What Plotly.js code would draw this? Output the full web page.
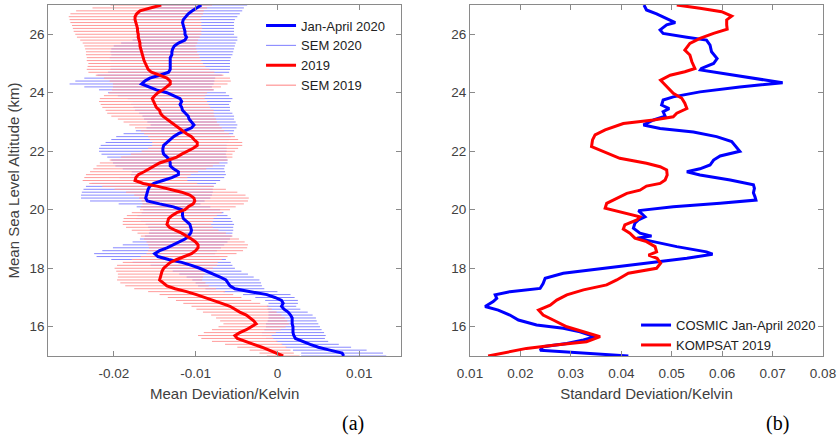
<!DOCTYPE html>
<html>
<head>
<meta charset="utf-8">
<script src="https://cdn.plot.ly/plotly-3.0.1.min.js"></script>
<style>html,body{margin:0;padding:0;background:#fff;}#chart{width:838px;height:438px;}</style>
</head>
<body>
<div id="chart"></div>
<script>
// ---- Panel (a): mean deviation profiles, altitude grid (km) ----
var altitude = [15.0,15.1,15.2,15.3,15.4,15.5,15.6,15.7,15.8,15.9,
16.0,16.1,16.2,16.3,16.4,16.5,16.6,16.7,16.8,16.9,
17.0,17.1,17.2,17.3,17.4,17.5,17.6,17.7,17.8,17.9,
18.0,18.1,18.2,18.3,18.4,18.5,18.6,18.7,18.8,18.9,
19.0,19.1,19.2,19.3,19.4,19.5,19.6,19.7,19.8,19.9,
20.0,20.1,20.2,20.3,20.4,20.5,20.6,20.7,20.8,20.9,
21.0,21.1,21.2,21.3,21.4,21.5,21.6,21.7,21.8,21.9,
22.0,22.1,22.2,22.3,22.4,22.5,22.6,22.7,22.8,22.9,
23.0,23.1,23.2,23.3,23.4,23.5,23.6,23.7,23.8,23.9,
24.0,24.1,24.2,24.3,24.4,24.5,24.6,24.7,24.8,24.9,
25.0,25.1,25.2,25.3,25.4,25.5,25.6,25.7,25.8,25.9,
26.0,26.1,26.2,26.3,26.4,26.5,26.6,26.7,26.8,26.9,27.0];

var mean2020 = [0.0081,0.0079,0.0064,0.0050,0.0040,0.0030,0.0022,0.0020,0.0019,0.0019,
0.0019,0.0018,0.0018,0.0018,0.0016,0.0013,0.0008,0.0005,0.0007,0.0005,
-0.0003,-0.0013,-0.0033,-0.0052,-0.0058,-0.0060,-0.0063,-0.0070,-0.0078,-0.0086,
-0.0095,-0.0105,-0.0117,-0.0133,-0.0146,-0.0150,-0.0144,-0.0135,-0.0127,-0.0119,
-0.0113,-0.0109,-0.0106,-0.0105,-0.0106,-0.0107,-0.0111,-0.0115,-0.0116,-0.0116,
-0.0117,-0.0127,-0.0144,-0.0159,-0.0161,-0.0160,-0.0159,-0.0158,-0.0156,-0.0151,
-0.0140,-0.0129,-0.0121,-0.0121,-0.0127,-0.0131,-0.0131,-0.0132,-0.0135,-0.0139,
-0.0140,-0.0140,-0.0139,-0.0135,-0.0131,-0.0127,-0.0121,-0.0113,-0.0105,-0.0102,
-0.0105,-0.0108,-0.0109,-0.0112,-0.0116,-0.0117,-0.0119,-0.0117,-0.0119,-0.0127,
-0.0135,-0.0148,-0.0158,-0.0166,-0.0162,-0.0156,-0.0144,-0.0133,-0.0131,-0.0131,
-0.0131,-0.0131,-0.0131,-0.0129,-0.0129,-0.0128,-0.0126,-0.0121,-0.0113,-0.0111,
-0.0113,-0.0113,-0.0114,-0.0115,-0.0116,-0.0115,-0.0112,-0.0109,-0.0104,-0.0099,-0.0093];

var sem2020 = [0.0052,0.0050,0.0045,0.0040,0.0035,0.0032,0.0036,0.0039,0.0038,0.0035,
0.0033,0.0032,0.0030,0.0029,0.0027,0.0024,0.0020,0.0018,0.0018,0.0020,
0.0024,0.0029,0.0033,0.0036,0.0039,0.0040,0.0041,0.0041,0.0042,0.0042,
0.0043,0.0050,0.0060,0.0070,0.0075,0.0074,0.0070,0.0066,0.0062,0.0058,
0.0055,0.0053,0.0051,0.0051,0.0052,0.0054,0.0056,0.0058,0.0055,0.0050,
0.0047,0.0045,0.0050,0.0070,0.0079,0.0080,0.0080,0.0079,0.0078,0.0076,
0.0070,0.0064,0.0058,0.0057,0.0062,0.0067,0.0070,0.0071,0.0073,0.0076,
0.0078,0.0078,0.0077,0.0075,0.0072,0.0070,0.0067,0.0060,0.0055,0.0053,
0.0054,0.0055,0.0056,0.0057,0.0058,0.0059,0.0060,0.0060,0.0064,0.0068,
0.0072,0.0070,0.0078,0.0088,0.0085,0.0080,0.0076,0.0074,0.0073,0.0073,
0.0073,0.0073,0.0074,0.0074,0.0075,0.0075,0.0074,0.0070,0.0064,0.0062,
0.0060,0.0060,0.0061,0.0062,0.0063,0.0063,0.0063,0.0063,0.0061,0.0058,0.0056];

var mean2019 = [0.0007,-0.0001,-0.0009,-0.0019,-0.0029,-0.0040,-0.0049,-0.0052,-0.0046,-0.0038,
-0.0031,-0.0026,-0.0029,-0.0033,-0.0038,-0.0046,-0.0053,-0.0058,-0.0068,-0.0078,
-0.0089,-0.0099,-0.0111,-0.0125,-0.0135,-0.0140,-0.0144,-0.0143,-0.0142,-0.0141,
-0.0139,-0.0135,-0.0131,-0.0123,-0.0114,-0.0105,-0.0100,-0.0097,-0.0097,-0.0100,
-0.0105,-0.0111,-0.0117,-0.0125,-0.0132,-0.0135,-0.0134,-0.0133,-0.0129,-0.0123,
-0.0113,-0.0109,-0.0103,-0.0101,-0.0102,-0.0107,-0.0117,-0.0131,-0.0146,-0.0164,
-0.0174,-0.0173,-0.0170,-0.0163,-0.0156,-0.0150,-0.0144,-0.0133,-0.0123,-0.0117,
-0.0109,-0.0103,-0.0098,-0.0098,-0.0102,-0.0105,-0.0111,-0.0116,-0.0121,-0.0126,
-0.0131,-0.0135,-0.0140,-0.0143,-0.0144,-0.0148,-0.0150,-0.0152,-0.0153,-0.0150,
-0.0146,-0.0140,-0.0135,-0.0131,-0.0131,-0.0135,-0.0144,-0.0154,-0.0158,-0.0160,
-0.0161,-0.0163,-0.0164,-0.0165,-0.0166,-0.0167,-0.0168,-0.0168,-0.0169,-0.0170,
-0.0170,-0.0171,-0.0171,-0.0172,-0.0173,-0.0174,-0.0174,-0.0172,-0.0168,-0.0156,-0.0142];

var sem2019 = [0.0020,0.0021,0.0025,0.0030,0.0035,0.0040,0.0044,0.0045,0.0044,0.0042,
0.0041,0.0040,0.0041,0.0042,0.0043,0.0045,0.0046,0.0047,0.0047,0.0046,
0.0045,0.0045,0.0047,0.0050,0.0051,0.0052,0.0052,0.0052,0.0053,0.0056,
0.0060,0.0061,0.0058,0.0055,0.0053,0.0055,0.0058,0.0060,0.0061,0.0060,
0.0058,0.0056,0.0054,0.0053,0.0053,0.0054,0.0055,0.0055,0.0055,0.0055,
0.0055,0.0058,0.0062,0.0065,0.0067,0.0068,0.0068,0.0068,0.0068,0.0066,
0.0064,0.0063,0.0064,0.0066,0.0069,0.0071,0.0073,0.0072,0.0068,0.0062,
0.0057,0.0055,0.0055,0.0055,0.0054,0.0053,0.0052,0.0051,0.0053,0.0055,
0.0057,0.0060,0.0063,0.0065,0.0066,0.0066,0.0066,0.0066,0.0064,0.0062,
0.0060,0.0062,0.0066,0.0070,0.0074,0.0077,0.0078,0.0077,0.0075,0.0072,
0.0070,0.0070,0.0069,0.0069,0.0068,0.0068,0.0068,0.0070,0.0072,0.0075,
0.0077,0.0078,0.0079,0.0079,0.0080,0.0080,0.0081,0.0081,0.0078,0.0070,0.0062];

// ---- Panel (b): standard deviation profiles ----
var cosmicAlt = [15.0,15.15,15.2,15.32,15.43,15.55,15.66,15.83,15.95,16.06,16.23,16.4,16.57,16.69,16.86,16.97,17.09,17.2,17.31,17.48,17.66,17.83,18.0,18.17,18.34,18.48,18.56,18.74,18.9,19.03,19.1,19.2,19.37,19.54,19.65,19.76,19.97,20.1,20.22,20.33,20.45,20.58,20.73,20.85,21.02,21.19,21.3,21.4,21.53,21.7,21.84,22.0,22.33,22.5,22.66,22.78,22.9,23.07,23.2,23.35,23.46,23.58,23.75,23.86,24.03,24.2,24.34,24.5,24.66,24.78,24.83,25.0,25.17,25.4,25.63,25.8,25.9,26.03,26.15,26.32,26.4,26.55,26.7,26.83,27.0];
var cosmicStd = [0.0414,0.0278,0.0239,0.0245,0.0292,0.0325,0.0348,0.0318,0.0285,0.0232,0.0196,0.0179,0.0156,0.0130,0.0146,0.0153,0.0150,0.0179,0.0239,0.0245,0.0249,0.0285,0.0371,0.0457,0.0530,0.0581,0.0569,0.0510,0.0464,0.0431,0.0460,0.0437,0.0424,0.0427,0.0434,0.0447,0.0434,0.0503,0.0596,0.0667,0.0665,0.0662,0.0664,0.0662,0.0616,0.0556,0.0530,0.0556,0.0576,0.0583,0.0596,0.0635,0.0619,0.0589,0.0543,0.0477,0.0444,0.0464,0.0487,0.0483,0.0495,0.0480,0.0483,0.0503,0.0556,0.0635,0.0720,0.0662,0.0596,0.0557,0.0559,0.0583,0.0590,0.0579,0.0576,0.0569,0.0530,0.0483,0.0477,0.0490,0.0507,0.0490,0.0470,0.0450,0.0445];

var kompsatAlt = [15.0,15.15,15.26,15.37,15.49,15.66,15.83,16.0,16.23,16.4,16.57,16.74,16.91,17.09,17.26,17.43,17.6,17.83,18.0,18.17,18.34,18.45,18.56,18.74,18.91,19.03,19.2,19.34,19.48,19.65,19.76,19.88,19.99,20.05,20.22,20.39,20.56,20.67,20.81,20.9,21.02,21.19,21.36,21.47,21.59,21.76,22.0,22.16,22.39,22.56,22.73,22.84,22.95,23.07,23.18,23.3,23.46,23.64,23.81,23.98,24.15,24.26,24.43,24.6,24.72,24.83,25.06,25.29,25.46,25.69,25.86,26.03,26.17,26.32,26.49,26.62,26.77,26.89,27.0];
var kompsatStd = [0.0136,0.0179,0.0212,0.0265,0.0331,0.0358,0.0325,0.0292,0.0265,0.0245,0.0236,0.0259,0.0272,0.0292,0.0325,0.0371,0.0391,0.0414,0.0470,0.0478,0.0471,0.0454,0.0470,0.0467,0.0450,0.0427,0.0417,0.0404,0.0407,0.0431,0.0437,0.0407,0.0381,0.0368,0.0371,0.0391,0.0411,0.0437,0.0450,0.0477,0.0487,0.0491,0.0490,0.0477,0.0450,0.0397,0.0361,0.0341,0.0343,0.0348,0.0368,0.0384,0.0404,0.0464,0.0503,0.0510,0.0530,0.0526,0.0520,0.0503,0.0493,0.0487,0.0478,0.0497,0.0526,0.0546,0.0540,0.0536,0.0526,0.0536,0.0556,0.0583,0.0610,0.0609,0.0609,0.0619,0.0599,0.0556,0.0510];

var xTickVals = [-0.02, -0.01, 0, 0.01];
var xTickText = ['-0.02', '-0.01', '0', '0.01'];

var BLUE = '#0000ff', RED = '#ff0000';
var FONT = 'Liberation Sans, Arial, sans-serif';

var traces = [
  {x: mean2020, y: altitude, xaxis: 'x', yaxis: 'y', type: 'scatter', mode: 'lines',
   name: 'SEM 2020', legendrank: 2, line: {color: '#7f7fff', width: 1},
   error_x: {type: 'data', array: sem2020, symmetric: true, color: '#8888ff', thickness: 1, width: 0}},
  {x: mean2019, y: altitude, xaxis: 'x', yaxis: 'y', type: 'scatter', mode: 'lines',
   name: 'SEM 2019', legendrank: 4, line: {color: '#ff8080', width: 1},
   error_x: {type: 'data', array: sem2019, symmetric: true, color: '#ff9a9a', thickness: 1, width: 0}},
  {x: mean2020, y: altitude, xaxis: 'x', yaxis: 'y', type: 'scatter', mode: 'lines',
   name: 'Jan-April 2020', legendrank: 1, line: {color: BLUE, width: 3}},
  {x: mean2019, y: altitude, xaxis: 'x', yaxis: 'y', type: 'scatter', mode: 'lines',
   name: '2019', legendrank: 3, line: {color: RED, width: 3}},
  {x: cosmicStd, y: cosmicAlt, xaxis: 'x2', yaxis: 'y2', type: 'scatter', mode: 'lines',
   name: 'COSMIC Jan-April 2020', legend: 'legend2', line: {color: BLUE, width: 3}},
  {x: kompsatStd, y: kompsatAlt, xaxis: 'x2', yaxis: 'y2', type: 'scatter', mode: 'lines',
   name: 'KOMPSAT 2019', legend: 'legend2', line: {color: RED, width: 3}}
];

var axisCommon = {
  showline: true, linecolor: '#8a8a8a', linewidth: 1, mirror: 'ticks',
  ticks: 'inside', ticklen: 5, tickcolor: '#8a8a8a', tickwidth: 1,
  showgrid: false, zeroline: false, automargin: false,
  tickfont: {family: FONT, size: 13.5, color: '#404040'}
};
function ax(extra) { return Object.assign({}, axisCommon, extra); }

var layout = {
  width: 838, height: 438,
  margin: {l: 0, r: 0, t: 0, b: 0},
  paper_bgcolor: '#ffffff', plot_bgcolor: '#ffffff',
  font: {family: FONT, color: '#404040'},
  xaxis: ax({domain: [0.05764, 0.47852], range: [-0.028, 0.0151], anchor: 'y',
    tickmode: 'array', tickvals: xTickVals, ticktext: xTickText, ticklabelstandoff: 5,
    title: {text: 'Mean Deviation/Kelvin', font: {family: FONT, size: 15, color: '#404040'}, standoff: 8}}),
  yaxis: ax({domain: [0.18721, 0.98858], range: [15, 27], anchor: 'x',
    tickvals: [16, 18, 20, 22, 24, 26],
    title: {text: 'Mean Sea Level Altitude (km)', font: {family: FONT, size: 15, color: '#404040'}, standoff: 6}}),
  xaxis2: ax({domain: [0.56086, 0.98210], range: [0.01, 0.08], anchor: 'y2',
    dtick: 0.01, tick0: 0.01, ticklabelstandoff: 5,
    title: {text: 'Standard Deviation/Kelvin', font: {family: FONT, size: 15, color: '#404040'}, standoff: 8}}),
  yaxis2: ax({domain: [0.18721, 0.98858], range: [15, 27], anchor: 'x2',
    tickvals: [16, 18, 20, 22, 24, 26]}),
  showlegend: true,
  legend: {x: 0.3115, y: 0.976, xanchor: 'left', yanchor: 'top', bgcolor: 'rgba(0,0,0,0)',
    font: {family: FONT, size: 13, color: '#222'}, tracegroupgap: 0, traceorder: 'normal'},
  legend2: {x: 0.759, y: 0.292, xanchor: 'left', yanchor: 'top', bgcolor: 'rgba(0,0,0,0)',
    font: {family: FONT, size: 13, color: '#222'}, tracegroupgap: 0},
  annotations: [
    {text: '(a)', xref: 'paper', yref: 'paper', x: 353 / 838, y: 1 - 423 / 438, xanchor: 'center', yanchor: 'middle',
     showarrow: false, font: {family: 'Liberation Serif, Times New Roman, serif', size: 20, color: '#000'}},
    {text: '(b)', xref: 'paper', yref: 'paper', x: 777 / 838, y: 1 - 423 / 438, xanchor: 'center', yanchor: 'middle',
     showarrow: false, font: {family: 'Liberation Serif, Times New Roman, serif', size: 20, color: '#000'}}
  ]
};

Plotly.newPlot('chart', traces, layout, {staticPlot: true, displayModeBar: false});
</script>
</body>
</html>
